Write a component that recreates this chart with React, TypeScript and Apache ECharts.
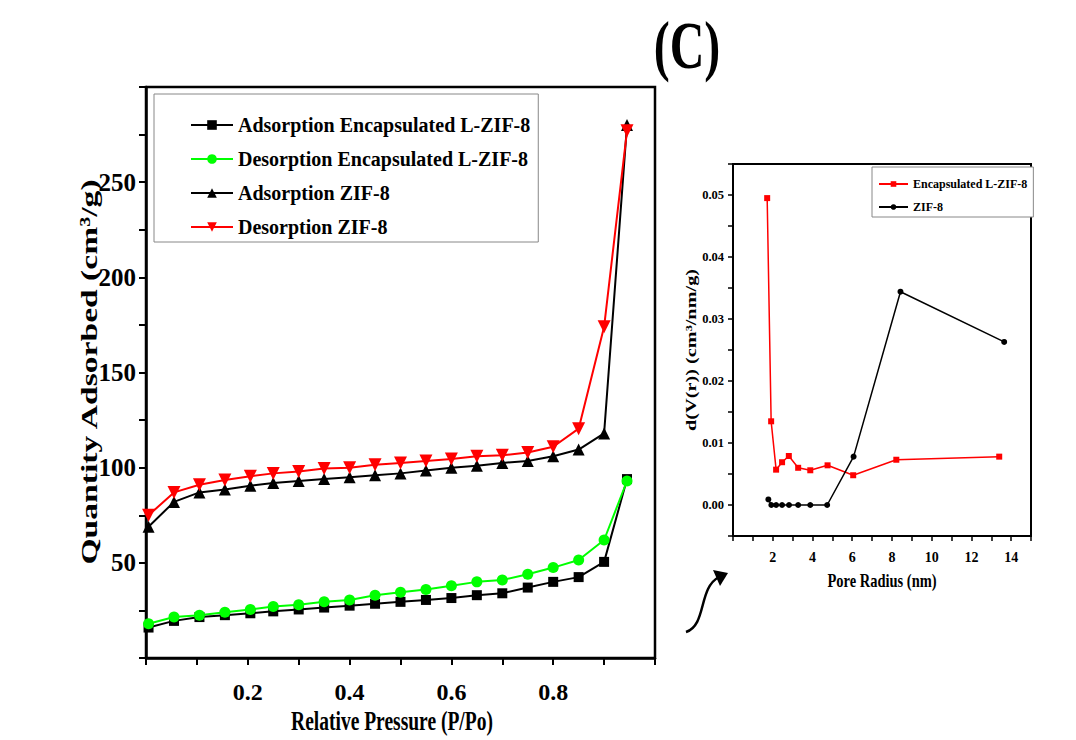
import React, { useEffect, useRef } from "react";
import * as echarts from "echarts";

// ---------- Left panel: N2 isotherms ----------
const pressure = [0.005, 0.055, 0.105, 0.155, 0.205, 0.25, 0.3, 0.35, 0.4, 0.45, 0.5, 0.55, 0.6, 0.65, 0.7, 0.75, 0.8, 0.85, 0.9, 0.945];
const adsEncap = [16, 19.5, 21.5, 22.5, 23.5, 24.5, 25.5, 26.5, 27.5, 28.5, 29.5, 30.5, 31.5, 33, 34, 37, 40, 42.5, 50.5, 94];
const desEncap = [18, 21.5, 22.5, 24, 25.5, 27, 28, 29.5, 30.5, 33, 34.5, 36, 38, 40, 41, 44, 47.5, 51.5, 62, 93];
const adsZif = [69, 82, 87, 88.5, 90.5, 92, 93, 94, 95, 96, 97, 98.5, 100, 101, 102.5, 103.5, 106, 109.5, 118, 280];
const desZif = [75, 87, 91, 93.5, 95.5, 97, 98, 99.5, 100, 101.5, 102.5, 103.5, 104.5, 106, 106.5, 108, 111, 120.5, 174, 277];

// ---------- Right panel: pore size distribution ----------
const radiusEncap = [1.72, 1.92, 2.17, 2.47, 2.81, 3.28, 3.89, 4.76, 6.05, 8.22, 13.4];
const dvEncap = [0.0495, 0.0135, 0.0057, 0.0069, 0.0079, 0.006, 0.0056, 0.0064, 0.0048, 0.0073, 0.0078];
const radiusZif = [1.78, 1.93, 2.17, 2.47, 2.82, 3.28, 3.89, 4.74, 6.07, 8.43, 13.65];
const dvZif = [0.0009, 0, 0, 0, 0, 0, 0, 0, 0.0078, 0.0344, 0.0263];

const leftNames = [
  "Adsorption Encapsulated L-ZIF-8",
  "Desorption Encapsulated L-ZIF-8",
  "Adsorption ZIF-8",
  "Desorption ZIF-8",
];
const rightNames = ["Encapsulated L-ZIF-8", "ZIF-8"];

const FONT = "Liberation Serif";
const zip = (xs: number[], ys: number[]) => xs.map((x, i) => [x, ys[i]]);
const INV_TRI = "path://M0,0 L10,0 L5,9 Z";

export default function App() {
  const ref = useRef<HTMLDivElement>(null);
  useEffect(() => {
    if (!ref.current) return;
    const chart = echarts.init(ref.current, null, { renderer: "svg" });
    const axisCommon = (w: number) => ({
      axisLine: { show: true, onZero: false, lineStyle: { color: "#000", width: w } },
      splitLine: { show: false },
    });
    const txt = (size: number) => ({ fontFamily: FONT, fontWeight: "bold", fontSize: size, fill: "#000" });
    const option: any = {
      animation: false,
      backgroundColor: "#fff",
      textStyle: { fontFamily: FONT },
      grid: [
        { left: 146, top: 87, width: 509, height: 571, show: true, borderColor: "#000", borderWidth: 2.5, backgroundColor: "transparent" },
        { left: 733, top: 164, width: 298, height: 372, show: true, borderColor: "#000", borderWidth: 2, backgroundColor: "transparent" },
      ],
      xAxis: [
        {
          type: "value", gridIndex: 0, min: 0, max: 1, interval: 0.1,
          ...axisCommon(2.5),
          axisTick: { show: true, inside: false, length: 7, lineStyle: { color: "#000", width: 2 } },
          axisLabel: {
            margin: 22, color: "#000", fontFamily: FONT, fontWeight: "bold", fontSize: 24,
            formatter: (v: number) => {
              const k = Math.round(v * 10);
              return k % 2 === 0 && k > 0 && k < 10 ? (k / 10).toFixed(1) : "";
            },
          },
        },
        {
          type: "value", gridIndex: 1, min: 0, max: 15, interval: 1,
          ...axisCommon(2),
          axisTick: { show: true, inside: false, length: 5, lineStyle: { color: "#000", width: 1.5 } },
          axisLabel: {
            margin: 14, color: "#000", fontFamily: FONT, fontWeight: "bold", fontSize: 14,
            formatter: (v: number) => {
              const k = Math.round(v);
              return k % 2 === 0 && k > 0 && k < 15 ? String(k) : "";
            },
          },
        },
      ],
      yAxis: [
        {
          type: "value", gridIndex: 0, min: 0, max: 300, interval: 25,
          ...axisCommon(2.5),
          axisTick: { show: true, inside: false, length: 7, lineStyle: { color: "#000", width: 2 } },
          axisLabel: {
            margin: 10, color: "#000", fontFamily: FONT, fontWeight: "bold", fontSize: 25,
            formatter: (v: number) => (Math.round(v) % 50 === 0 && v > 0 && v < 300 ? String(Math.round(v)) : ""),
          },
        },
        {
          type: "value", gridIndex: 1, min: -0.005, max: 0.055, interval: 0.005,
          ...axisCommon(2),
          axisTick: { show: true, inside: false, length: 5, lineStyle: { color: "#000", width: 1.5 } },
          axisLabel: {
            margin: 9, color: "#000", fontFamily: FONT, fontWeight: "bold", fontSize: 12.5,
            formatter: (v: number) => {
              const k = Math.round(v * 1000);
              return k % 10 === 0 && k >= 0 && k <= 50 ? (k / 1000).toFixed(2) : "";
            },
          },
        },
      ],
      legend: [
        {
          data: leftNames, orient: "vertical", left: 154, top: 94,
          padding: [21, 8, 5, 36], itemGap: 14, itemWidth: 42, itemHeight: 12,
          borderColor: "#888", borderWidth: 1, backgroundColor: "#fff",
          textStyle: { fontFamily: FONT, fontWeight: "bold", fontSize: 20, color: "#000" },
        },
        {
          data: rightNames, orient: "vertical", left: 872, top: 167,
          padding: [11, 6, 4, 6], itemGap: 11, itemWidth: 29, itemHeight: 7,
          borderColor: "#888", borderWidth: 1, backgroundColor: "#fff",
          textStyle: { fontFamily: FONT, fontWeight: "bold", fontSize: 12, color: "#000" },
        },
      ],
      series: [
        {
          name: leftNames[0], type: "line", xAxisIndex: 0, yAxisIndex: 0, data: zip(pressure, adsEncap),
          symbol: "rect", symbolSize: 10, lineStyle: { color: "#000", width: 2 }, itemStyle: { color: "#000" },
        },
        {
          name: leftNames[1], type: "line", xAxisIndex: 0, yAxisIndex: 0, data: zip(pressure, desEncap),
          symbol: "circle", symbolSize: 11, lineStyle: { color: "#00ff00", width: 2 }, itemStyle: { color: "#00ff00" },
        },
        {
          name: leftNames[2], type: "line", xAxisIndex: 0, yAxisIndex: 0, data: zip(pressure, adsZif),
          symbol: "triangle", symbolSize: 12, lineStyle: { color: "#000", width: 2 }, itemStyle: { color: "#000" },
        },
        {
          name: leftNames[3], type: "line", xAxisIndex: 0, yAxisIndex: 0, data: zip(pressure, desZif),
          symbol: INV_TRI, symbolSize: 13, lineStyle: { color: "#ff0000", width: 2 }, itemStyle: { color: "#ff0000" },
        },
        {
          name: rightNames[0], type: "line", xAxisIndex: 1, yAxisIndex: 1, data: zip(radiusEncap, dvEncap),
          symbol: "rect", symbolSize: 6, lineStyle: { color: "#ff0000", width: 1.5 }, itemStyle: { color: "#ff0000" },
        },
        {
          name: rightNames[1], type: "line", xAxisIndex: 1, yAxisIndex: 1, data: zip(radiusZif, dvZif),
          symbol: "circle", symbolSize: 6, lineStyle: { color: "#000", width: 1.5 }, itemStyle: { color: "#000" },
        },
      ],
      graphic: [
        {
          type: "text", x: 687, y: 46, scaleY: 1.4,
          style: { text: "(C)", ...txt(48), align: "center", verticalAlign: "middle" },
        },
        {
          type: "text", x: 89, y: 372, rotation: Math.PI / 2, scaleX: 1.4,
          style: { text: "Quantity Adsorbed (cm³/g)", ...txt(24), align: "center", verticalAlign: "middle" },
        },
        {
          type: "text", x: 392, y: 721, scaleY: 1.4,
          style: { text: "Relative Pressure (P/Po)", ...txt(19.5), align: "center", verticalAlign: "middle" },
        },
        {
          type: "text", x: 691, y: 350, rotation: Math.PI / 2, scaleX: 1.45,
          style: { text: "d(V(r)) (cm³/nm/g)", ...txt(14), align: "center", verticalAlign: "middle" },
        },
        {
          type: "text", x: 882, y: 581, scaleY: 1.35,
          style: { text: "Pore Radius (nm)", ...txt(14.5), align: "center", verticalAlign: "middle" },
        },
        {
          type: "bezierCurve",
          shape: { x1: 686, y1: 632, cpx1: 707, cpy1: 625, cpx2: 698, cpy2: 588, x2: 719, y2: 577 },
          style: { stroke: "#000", lineWidth: 2.5, fill: null },
        },
        {
          type: "polygon",
          shape: { points: [[728, 573], [713, 570], [720, 586]] },
          style: { fill: "#000" },
        },
      ],
    };
    chart.setOption(option);
    return () => chart.dispose();
  }, []);
  return <div ref={ref} style={{ position: "fixed", left: 0, top: 0, width: 1076, height: 740, background: "#fff" }} />;
}
